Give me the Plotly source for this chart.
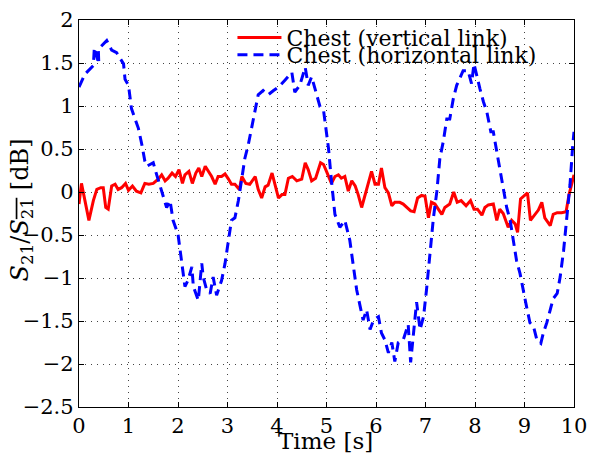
import plotly.graph_objects as go

# Chest (vertical link)
t_vert = [0, 0.05, 0.12, 0.2, 0.29, 0.36, 0.44, 0.49, 0.54, 0.59, 0.66, 0.73, 0.79, 0.86, 0.94,
          1.0, 1.08, 1.16, 1.25, 1.33, 1.41, 1.5, 1.6, 1.67, 1.74, 1.8, 1.88, 1.95,
          2.02, 2.09, 2.14, 2.22, 2.29, 2.36, 2.42, 2.48, 2.55, 2.63, 2.68, 2.75, 2.81, 2.88, 2.95,
          3.02, 3.08, 3.15, 3.24, 3.29, 3.37, 3.45, 3.56, 3.62, 3.69, 3.76, 3.82, 3.9, 3.96,
          4.03, 4.1, 4.16, 4.23, 4.31, 4.4, 4.5, 4.57, 4.63, 4.7, 4.78, 4.88, 4.94, 5.0,
          5.1, 5.17, 5.24, 5.3, 5.37, 5.44, 5.51, 5.58, 5.64, 5.71, 5.78, 5.84, 5.91, 5.98,
          6.05, 6.11, 6.18, 6.25, 6.32, 6.38, 6.48, 6.55, 6.63, 6.7, 6.77, 6.84, 6.92, 6.99,
          7.06, 7.12, 7.19, 7.26, 7.33, 7.39, 7.49, 7.57, 7.64, 7.72, 7.82, 7.91, 7.98,
          8.05, 8.14, 8.2, 8.27, 8.37, 8.44, 8.5, 8.57, 8.67, 8.74, 8.81, 8.86, 8.92, 8.99,
          9.06, 9.12, 9.21, 9.28, 9.35, 9.41, 9.52, 9.58, 9.66, 9.75, 9.84, 9.9, 10.0]
s_vert = [-0.14, 0.1, -0.1, -0.33, -0.1, 0.03, 0.05, 0.05, -0.18, -0.2, 0.07, 0.09, 0.03, 0.05, 0.1,
          0.02, 0.07, 0.01, -0.01, 0.1, 0.09, 0.1, 0.15, 0.2, 0.13, 0.16, 0.22, 0.18,
          0.26, 0.1, 0.2, 0.24, 0.1, 0.22, 0.28, 0.18, 0.3, 0.22, 0.18, 0.09, 0.18, 0.18, 0.21,
          0.15, 0.09, 0.09, 0.03, 0.18, 0.1, 0.09, 0.18, 0.03, -0.07, 0.06, 0.08, 0.22, 0.07,
          -0.07, -0.03, -0.03, 0.16, 0.18, 0.13, 0.15, 0.34, 0.26, 0.13, 0.16, 0.34, 0.32, 0.24,
          0.1, 0.18, 0.2, 0.16, 0.18, 0.01, 0.13, 0.07, -0.03, -0.18, -0.03, 0.1, 0.24, 0.09,
          0.09, 0.28, 0.05, -0.01, -0.16, -0.12, -0.12, -0.14, -0.18, -0.22, -0.23, -0.07, -0.04, -0.05,
          -0.3, -0.12, -0.14, -0.2, -0.26, -0.18, -0.14, 0.0, -0.12, -0.1, -0.16, -0.1, -0.2,
          -0.2, -0.27, -0.18, -0.15, -0.14, -0.33, -0.2, -0.25, -0.41, -0.33, -0.37, -0.47, -0.08, -0.05,
          -0.01, -0.33, -0.26, -0.21, -0.12, -0.3, -0.39, -0.26, -0.24, -0.24, -0.23, -0.03, 0.2]

# Chest (horizontal link)
t_horz = [0, 0.12, 0.29, 0.31, 0.4, 0.39, 0.56, 0.66, 0.76, 0.9, 0.93, 1.0, 1.06, 1.1, 1.2, 1.27,
          1.33, 1.37, 1.5, 1.57, 1.7, 1.77, 1.84, 1.9, 2.0, 2.07, 2.14, 2.2, 2.28, 2.31, 2.41,
          2.48, 2.51, 2.58, 2.65, 2.71, 2.78, 2.88, 2.95, 3.02, 3.08, 3.15, 3.22, 3.29, 3.35,
          3.42, 3.49, 3.56, 3.62, 3.72, 3.82, 3.93, 4.03, 4.16, 4.3, 4.36, 4.46, 4.57, 4.63,
          4.7, 4.77, 4.87, 4.94, 5.04, 5.1, 5.17, 5.27, 5.37, 5.47, 5.54, 5.61, 5.68, 5.74,
          5.81, 5.88, 5.95, 6.05, 6.11, 6.18, 6.25, 6.32, 6.38, 6.45, 6.55, 6.65, 6.7, 6.75,
          6.82, 6.89, 6.96, 7.02, 7.09, 7.16, 7.23, 7.29, 7.36, 7.43, 7.49, 7.56, 7.63, 7.7,
          7.76, 7.86, 7.93, 7.98, 8.03, 8.1, 8.17, 8.24, 8.32, 8.37, 8.44, 8.5, 8.57, 8.64,
          8.71, 8.77, 8.84, 8.91, 8.98, 9.04, 9.11, 9.18, 9.25, 9.33, 9.38, 9.45, 9.52, 9.58,
          9.66, 9.72, 9.79, 9.85, 9.92, 9.97, 10.0]
s_horz = [1.22, 1.37, 1.47, 1.68, 1.49, 1.66, 1.76, 1.65, 1.62, 1.49, 1.31, 1.24, 0.97, 0.9, 0.74, 0.55,
          0.36, 0.3, 0.34, 0.2, -0.03, -0.18, -0.1, -0.33, -0.49, -0.8, -1.1, -1.03, -0.87, -1.1, -1.26,
          -0.83, -0.99, -1.14, -1.18, -0.99, -1.2, -1.03, -0.83, -0.56, -0.33, -0.3, -0.1, 0.16, 0.39,
          0.55, 0.74, 0.97, 1.13, 1.18, 1.13, 1.18, 1.22, 1.3, 1.39, 1.16, 1.24, 1.45, 1.24,
          1.34, 1.2, 0.99, 0.95, 0.51, 0.13, -0.26, -0.41, -0.33, -0.56, -0.87, -1.14, -1.33, -1.49,
          -1.37, -1.6, -1.49, -1.45, -1.64, -1.72, -1.87, -1.75, -1.97, -1.75, -1.72, -1.54, -1.98, -1.68,
          -1.28, -1.6, -1.45, -1.14, -0.72, -0.3, 0.01, 0.39, 0.59, 0.85, 0.85, 1.08, 1.24, 1.34,
          1.41, 1.41, 1.26, 1.49, 1.36, 1.2, 1.05, 0.93, 0.7, 0.7, 0.47, 0.28, 0.05, -0.18,
          -0.33, -0.56, -0.8, -0.95, -1.18, -1.33, -1.52, -1.56, -1.72, -1.76, -1.64, -1.52, -1.37, -1.24,
          -1.18, -0.99, -0.68, -0.33, 0.09, 0.51, 0.7]

x_ticks = [0, 1, 2, 3, 4, 5, 6, 7, 8, 9, 10]
y_ticks = [-2.5, -2, -1.5, -1, -0.5, 0, 0.5, 1, 1.5, 2]
y_tick_labels = ["\u22122.5", "\u22122", "\u22121.5", "\u22121", "\u22120.5", "0", "0.5", "1", "1.5", "2"]

FONT = "DejaVu Serif"

fig = go.Figure()
fig.add_trace(go.Scatter(x=t_vert, y=s_vert, mode="lines", name="Chest (vertical link)",
                         line=dict(color="#ff0000", width=3), legend="legend"))
fig.add_trace(go.Scatter(x=t_horz, y=s_horz, mode="lines", name="Chest (horizontal link)",
                         line=dict(color="#0000ff", width=3, dash="10px,6px"), legend="legend2"))

axis_common = dict(showline=True, linecolor="black", linewidth=1.3, mirror="ticks",
                   ticks="inside", ticklen=5, tickcolor="black", automargin=False,
                   showgrid=True, gridcolor="#444444", griddash="1px,5px", gridwidth=1,
                   zeroline=False, tickfont=dict(family=FONT, size=21, color="black"))

fig.update_xaxes(range=[0, 10], tickvals=x_ticks, ticktext=[str(v) for v in x_ticks], **axis_common)
fig.update_yaxes(range=[-2.5, 2], tickvals=y_ticks, ticktext=y_tick_labels, **axis_common)

leg_common = dict(xanchor="left", yanchor="middle", bgcolor="rgba(0,0,0,0)", borderwidth=0,
                  font=dict(family=FONT, size=22, color="black"), itemwidth=44)

fig.update_layout(
    width=591, height=449,
    margin=dict(l=71, r=25, t=9, b=50),
    paper_bgcolor="white", plot_bgcolor="white",
    showlegend=True,
    legend=dict(x=0.31, y=0.954, **leg_common),
    legend2=dict(x=0.31, y=0.910, **leg_common),
    annotations=[
        dict(text="Time [s]", xref="paper", yref="paper", x=0.497, y=-0.087,
             xanchor="center", yanchor="middle", showarrow=False,
             font=dict(family=FONT, size=23, color="black")),
        dict(text="<i>S</i><sub>21</sub>/<span style='text-decoration:overline'><i>S</i><sub>21</sub></span> [dB]",
             xref="paper", yref="paper", x=-0.117, y=0.508, textangle=-90,
             xanchor="center", yanchor="middle", showarrow=False,
             font=dict(family=FONT, size=24, color="black")),
    ],
)

fig.write_html("out.html")
